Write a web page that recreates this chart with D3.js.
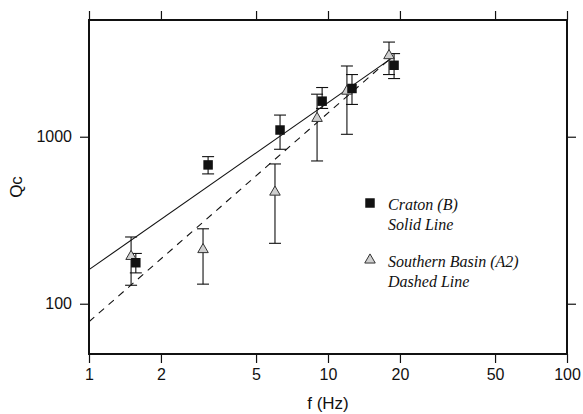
<!DOCTYPE html>
<html>
<head>
<meta charset="utf-8">
<script src="https://cdn.jsdelivr.net/npm/d3@7"></script>
<style>
  body { margin: 0; background: #fff; }
  svg { display: block; }
</style>
</head>
<body>
<svg id="chart" width="583" height="414"></svg>
<script>
// Craton (B) - squares
const cratonF = [1.57, 3.15, 6.3, 9.45, 12.6, 18.9];
const cratonQ = [176, 678, 1097, 1633, 1945, 2678];
const cratonLow = [153, 599, 841, 1477, 1561, 2230];
const cratonHigh = [200, 760, 1348, 1971, 2357, 3146];

// Southern Basin (A2) - triangles
const basinF = [1.5, 3.0, 6.0, 9.0, 12.0, 18.0];
const basinQ = [192, 211, 466, 1288, 1874, 3059];
const basinLow = [129, 131, 230, 716, 1034, 2357];
const basinHigh = [251, 281, 687, 1798, 2652, 3688];

// fitted lines Q = Q0 * f^n
const solidFit = { q0: 160, n: 1.0, fMax: 18.6 };
const dashedFit = { q0: 78, n: 1.25, fMax: 18 };

const xTicks = [1, 2, 5, 10, 20, 50, 100];
const yTicks = [100, 1000];

const legendItems = [
  { type: "square", lines: ["Craton (B)", "Solid Line"] },
  { type: "triangle", lines: ["Southern Basin (A2)", "Dashed Line"] }
];

const margin = { top: 20, right: 16, bottom: 60, left: 89 };
const width = 567 - margin.left;
const height = 354 - margin.top;

const svg = d3.select("#chart");
const g = svg.append("g")
  .attr("transform", `translate(${margin.left}, ${margin.top})`);

const x = d3.scaleLog().domain([1, 100]).range([0, width]);
const y = d3.scaleLog().domain([50, 5000]).range([height, 0]);

const sansFont = "'Liberation Sans', Arial, Helvetica, sans-serif";

// axes
function styleAxis(sel) {
  sel.select(".domain").remove();
  sel.selectAll(".tick line").attr("stroke", "#111").attr("stroke-width", 1.2);
  sel.selectAll(".tick text")
    .attr("fill", "#111")
    .style("font-family", sansFont)
    .style("font-size", "16px");
}

g.append("g")
  .attr("transform", `translate(0, ${height})`)
  .call(d3.axisBottom(x).tickValues(xTicks).tickFormat(d3.format("d")).tickSize(9).tickPadding(6))
  .call(styleAxis);

g.append("g")
  .call(d3.axisTop(x).tickValues(xTicks).tickFormat("").tickSize(9))
  .call(styleAxis);

g.append("g")
  .call(d3.axisLeft(y).tickValues(yTicks).tickFormat(d3.format("d")).tickSize(9).tickPadding(8))
  .call(styleAxis);

g.append("g")
  .attr("transform", `translate(${width}, 0)`)
  .call(d3.axisRight(y).tickValues(yTicks).tickFormat("").tickSize(9))
  .call(styleAxis);

// frame
g.append("rect")
  .attr("x", 0).attr("y", 0)
  .attr("width", width).attr("height", height)
  .attr("fill", "none")
  .attr("stroke", "#111")
  .attr("stroke-width", 2);

// axis labels
g.append("text")
  .attr("x", width / 2)
  .attr("y", height + 55)
  .attr("text-anchor", "middle")
  .style("font-family", sansFont)
  .style("font-size", "17px")
  .attr("fill", "#111")
  .text("f (Hz)");

g.append("text")
  .attr("transform", "rotate(-90)")
  .attr("x", -height / 2)
  .attr("y", -67)
  .attr("text-anchor", "middle")
  .style("font-family", sansFont)
  .style("font-size", "17px")
  .attr("fill", "#111")
  .text("Qc");

// fit lines
function fitLine(fit) {
  return [1, fit.fMax].map(f => [x(f), y(fit.q0 * Math.pow(f, fit.n))]);
}
const line = d3.line();

g.append("path")
  .attr("d", line(fitLine(solidFit)))
  .attr("fill", "none")
  .attr("stroke", "#111")
  .attr("stroke-width", 1.1);

g.append("path")
  .attr("d", line(fitLine(dashedFit)))
  .attr("fill", "none")
  .attr("stroke", "#111")
  .attr("stroke-width", 1.1)
  .attr("stroke-dasharray", "7,6");

// error bars
function errorBars(fs, lows, highs) {
  const eb = g.append("g").attr("stroke", "#111").attr("stroke-width", 1.1);
  fs.forEach((f, i) => {
    const cx = x(f);
    eb.append("line").attr("x1", cx).attr("x2", cx).attr("y1", y(lows[i])).attr("y2", y(highs[i]));
    eb.append("line").attr("x1", cx - 6).attr("x2", cx + 6).attr("y1", y(lows[i])).attr("y2", y(lows[i]));
    eb.append("line").attr("x1", cx - 6).attr("x2", cx + 6).attr("y1", y(highs[i])).attr("y2", y(highs[i]));
  });
}
errorBars(basinF, basinLow, basinHigh);
errorBars(cratonF, cratonLow, cratonHigh);

// markers
const triangle = d3.symbol().type(d3.symbolTriangle).size(48);
const square = d3.symbol().type(d3.symbolSquare).size(90);

g.selectAll(".tri")
  .data(basinF)
  .enter()
  .append("path")
  .attr("class", "tri")
  .attr("d", triangle)
  .attr("transform", (d, i) => `translate(${x(d)}, ${y(basinQ[i])})`)
  .attr("fill", "#cfcfcf")
  .attr("stroke", "#333")
  .attr("stroke-width", 1);

g.selectAll(".sq")
  .data(cratonF)
  .enter()
  .append("path")
  .attr("class", "sq")
  .attr("d", square)
  .attr("transform", (d, i) => `translate(${x(d)}, ${y(cratonQ[i])})`)
  .attr("fill", "#111");

// legend
const legend = svg.append("g").attr("transform", "translate(370, 203)");
legendItems.forEach((item, i) => {
  const row = legend.append("g").attr("transform", `translate(0, ${i * 57})`);
  if (item.type === "square") {
    row.append("path").attr("d", square).attr("fill", "#111");
  } else {
    row.append("path").attr("d", triangle)
      .attr("fill", "#cfcfcf").attr("stroke", "#333").attr("stroke-width", 1);
  }
  item.lines.forEach((t, j) => {
    row.append("text")
      .attr("x", 18)
      .attr("y", 7 + j * 20)
      .style("font-family", "'Liberation Serif', 'Times New Roman', serif")
      .style("font-style", "italic")
      .style("font-size", "16px")
      .attr("fill", "#111")
      .text(t);
  });
});
</script>
</body>
</html>
